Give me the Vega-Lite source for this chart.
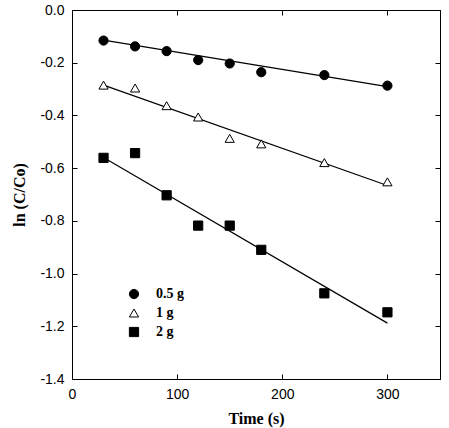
{
  "$schema": "https://vega.github.io/schema/vega-lite/v6.json",
  "width": 368,
  "height": 369,
  "autosize": "none",
  "padding": {"left": 72, "top": 10, "right": 9, "bottom": 49},
  "background": "white",
  "datasets": {
    "pts": [
      {"t": 30, "v": -0.116, "s": "0.5 g"},
      {"t": 60, "v": -0.138, "s": "0.5 g"},
      {"t": 90, "v": -0.156, "s": "0.5 g"},
      {"t": 120, "v": -0.19, "s": "0.5 g"},
      {"t": 150, "v": -0.203, "s": "0.5 g"},
      {"t": 180, "v": -0.236, "s": "0.5 g"},
      {"t": 240, "v": -0.247, "s": "0.5 g"},
      {"t": 300, "v": -0.287, "s": "0.5 g"},
      {"t": 30, "v": -0.285, "s": "1 g"},
      {"t": 60, "v": -0.296, "s": "1 g"},
      {"t": 90, "v": -0.363, "s": "1 g"},
      {"t": 120, "v": -0.406, "s": "1 g"},
      {"t": 150, "v": -0.487, "s": "1 g"},
      {"t": 180, "v": -0.508, "s": "1 g"},
      {"t": 240, "v": -0.579, "s": "1 g"},
      {"t": 300, "v": -0.652, "s": "1 g"},
      {"t": 30, "v": -0.561, "s": "2 g"},
      {"t": 60, "v": -0.543, "s": "2 g"},
      {"t": 90, "v": -0.703, "s": "2 g"},
      {"t": 120, "v": -0.818, "s": "2 g"},
      {"t": 150, "v": -0.818, "s": "2 g"},
      {"t": 180, "v": -0.91, "s": "2 g"},
      {"t": 240, "v": -1.075, "s": "2 g"},
      {"t": 300, "v": -1.147, "s": "2 g"}
    ],
    "fits": [
      {"t": 30, "v": -0.114, "s": "0.5 g"},
      {"t": 300, "v": -0.291, "s": "0.5 g"},
      {"t": 30, "v": -0.285, "s": "1 g"},
      {"t": 300, "v": -0.666, "s": "1 g"},
      {"t": 30, "v": -0.56, "s": "2 g"},
      {"t": 300, "v": -1.188, "s": "2 g"}
    ]
  },
  "layer": [
    {
      "data": {"name": "fits"},
      "mark": {"type": "line", "color": "black", "strokeWidth": 1.2},
      "encoding": {
        "x": {"field": "t", "type": "quantitative", "scale": {"domain": [0, 350], "nice": false, "zero": false}, "axis": null},
        "y": {"field": "v", "type": "quantitative", "scale": {"domain": [-1.4, 0], "nice": false, "zero": false}, "axis": null},
        "detail": {"field": "s", "type": "nominal"}
      }
    },
    {
      "data": {"name": "pts"},
      "mark": {"type": "point", "strokeWidth": 1, "opacity": 1, "fillOpacity": 1, "strokeOpacity": 1},
      "encoding": {
        "x": {
          "field": "t", "type": "quantitative",
          "axis": {"orient": "bottom", "values": [0, 100, 200, 300], "title": "Time (s)", "tickSize": -5, "labelPadding": 13, "titlePadding": 9, "labelFlush": false}
        },
        "y": {
          "field": "v", "type": "quantitative",
          "axis": {"orient": "left", "values": [0, -0.2, -0.4, -0.6, -0.8, -1.0, -1.2, -1.4], "labelExpr": "replace(format(datum.value, '.1f'), '−', '-')", "title": "ln (C/Co)", "tickSize": -5, "labelPadding": 13, "titlePadding": 12, "labelFlush": false}
        },
        "shape": {
          "field": "s", "type": "nominal",
          "scale": {"domain": ["0.5 g", "1 g", "2 g"], "range": ["circle", "triangle-up", "square"]},
          "legend": {"orient": "none", "legendX": 55, "legendY": 277, "title": null, "padding": 0, "rowPadding": 5, "labelOffset": 15, "symbolSize": 85, "symbolStrokeWidth": 1, "labelFont": "Liberation Serif", "labelFontWeight": "bold", "labelFontSize": 14, "labelColor": "black"}
        },
        "fill": {
          "field": "s", "type": "nominal",
          "scale": {"domain": ["0.5 g", "1 g", "2 g"], "range": ["black", "white", "black"]},
          "legend": {"orient": "none", "legendX": 55, "legendY": 277, "title": null, "padding": 0, "rowPadding": 5, "labelOffset": 15, "symbolSize": 85, "symbolStrokeWidth": 1, "labelFont": "Liberation Serif", "labelFontWeight": "bold", "labelFontSize": 14, "labelColor": "black"}
        },
        "stroke": {
          "field": "s", "type": "nominal",
          "scale": {"domain": ["0.5 g", "1 g", "2 g"], "range": ["black", "black", "black"]},
          "legend": {"orient": "none", "legendX": 55, "legendY": 277, "title": null, "padding": 0, "rowPadding": 5, "labelOffset": 15, "symbolSize": 85, "symbolStrokeWidth": 1, "labelFont": "Liberation Serif", "labelFontWeight": "bold", "labelFontSize": 14, "labelColor": "black"}
        },
        "size": {"value": 85}
      }
    },
    {
      "data": {"name": "pts"},
      "mark": {"type": "point", "opacity": 0},
      "encoding": {
        "x": {"field": "t", "type": "quantitative", "axis": {"orient": "top", "values": [0, 100, 200, 300], "labels": false, "title": null, "tickSize": -5}},
        "y": {"field": "v", "type": "quantitative", "axis": {"orient": "right", "values": [0, -0.2, -0.4, -0.6, -0.8, -1.0, -1.2, -1.4], "labels": false, "title": null, "tickSize": -5}}
      }
    }
  ],
  "resolve": {"axis": {"x": "independent", "y": "independent"}},
  "config": {
    "view": {"stroke": "black", "strokeWidth": 1},
    "axis": {
      "grid": false,
      "domainColor": "black",
      "domainWidth": 1,
      "tickColor": "black",
      "tickWidth": 1,
      "labelFont": "Liberation Sans",
      "labelFontSize": 14,
      "labelColor": "black",
      "titleFont": "Liberation Serif",
      "titleFontWeight": "bold",
      "titleFontSize": 16,
      "titleColor": "black"
    }
  }
}
